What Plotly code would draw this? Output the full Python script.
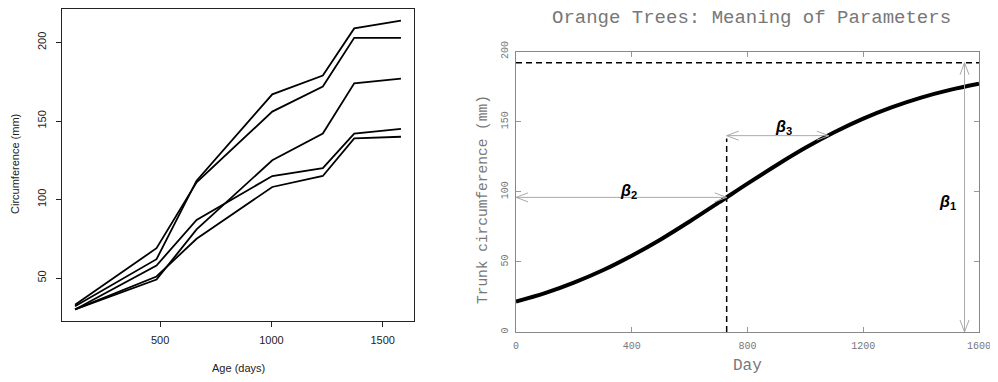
import plotly.graph_objects as go

# ---------------- data ----------------
# Left panel: Orange tree growth (age in days, circumference in mm)
age = [118, 484, 664, 1004, 1231, 1372, 1582]
tree1 = [30, 58, 87, 115, 120, 142, 145]
tree2 = [33, 69, 111, 156, 172, 203, 203]
tree3 = [30, 51, 75, 108, 115, 139, 140]
tree4 = [32, 62, 112, 167, 179, 209, 214]
tree5 = [30, 49, 81, 125, 142, 174, 177]
trees = [tree1, tree2, tree3, tree4, tree5]

# Right panel: fitted curve
day = [0, 100, 200, 300, 400, 500, 600, 700, 800, 900, 1000,
       1100, 1200, 1300, 1400, 1500, 1600]
circ = [21.7, 27.7, 35.2, 44.0, 54.4, 66.0, 78.8, 92.2, 105.8, 118.9,
        131.3, 142.4, 152.1, 160.3, 167.1, 172.6, 177.0]

# parameter annotations
beta1 = 192          # asymptote
beta2 = 728          # inflection day
beta3 = 353          # scale
beta1_arrow_day = 1550
beta3_arrow_level = 140
beta2_dash_top = 138

# ---------------- layout geometry ----------------
# page body has an 8px margin; figure sized so the page fills the window
OFF = 8
W, H = 998 - 2 * OFF, 382 - 2 * OFF
L_X = (62, 414); L_Y = (9, 321)          # screen pixels
R_X = (516, 979); R_Y = (51.5, 332)
XR2 = [0, 1600]; YR2 = [0, 200]

def xdom(p): return [(p[0] - OFF) / W, (p[1] - OFF) / W]
def ydom(p): return [(H - (p[1] - OFF)) / H, (H - (p[0] - OFF)) / H]

fig = go.Figure()

for t in trees:
    fig.add_trace(go.Scatter(x=age, y=t, mode="lines", xaxis="x", yaxis="y",
                             line=dict(color="black", width=1.8),
                             showlegend=False, hoverinfo="skip"))

fig.add_trace(go.Scatter(x=day, y=circ, mode="lines", xaxis="x2", yaxis="y2",
                         line=dict(color="black", width=4, shape="spline"),
                         showlegend=False, hoverinfo="skip"))

# pixel scale of the right panel (for arrow heads)
sx = (R_X[1] - R_X[0]) / (XR2[1] - XR2[0])
sy = (R_Y[1] - R_Y[0]) / (YR2[1] - YR2[0])

shapes = []
ARROW_COL = "#aaaaaa"

def seg(x0, y0, x1, y1, color, width, dash="solid"):
    shapes.append(dict(type="line", xref="x2", yref="y2", x0=x0, y0=y0, x1=x1, y1=y1,
                       line=dict(color=color, width=width, dash=dash), layer="above"))

def head(xe, ye, xs, ys, length=12, half=4.5):
    # open V arrow head at (xe, ye), arrow coming from (xs, ys)
    dxp = (xe - xs) * sx; dyp = (ye - ys) * sy
    n = (dxp ** 2 + dyp ** 2) ** 0.5
    ux, uy = dxp / n, dyp / n
    nx, ny = -uy, ux
    for s in (1, -1):
        px = -length * ux + s * half * nx
        py = -length * uy + s * half * ny
        seg(xe, ye, xe + px / sx, ye + py / sy, ARROW_COL, 1)

def darrow(x0, y0, x1, y1):
    seg(x0, y0, x1, y1, ARROW_COL, 1)
    head(x1, y1, x0, y0)
    head(x0, y0, x1, y1)

# dashed reference lines
seg(XR2[0], beta1, XR2[1], beta1, "black", 1.5, "6px,4px")
seg(beta2, 0, beta2, beta2_dash_top, "black", 1.5, "6px,4px")
# arrows
darrow(XR2[0], beta1 / 2, beta2, beta1 / 2)
darrow(beta2, beta3_arrow_level, beta2 + beta3, beta3_arrow_level)
darrow(beta1_arrow_day, 0, beta1_arrow_day, beta1)

annotations = []
MONO = "Liberation Mono"
SANS = "Liberation Sans"

def pann(text, x, y, size, color, font=SANS, angle=0):
    annotations.append(dict(text=text, xref="paper", yref="paper",
                            x=(x - OFF) / W, y=(H - (y - OFF)) / H,
                            showarrow=False, xanchor="center", yanchor="middle",
                            textangle=angle, font=dict(family=font, size=size, color=color)))

pann("Age (days)", 238, 368, 11, "#222")
pann("Circumference (mm)", 15, 164, 11, "#222", angle=-90)
pann("Orange Trees: Meaning of Parameters", 751, 18, 19, "#777", font=MONO)
pann("Day", 747, 366, 16, "#777", font=MONO)
pann("Trunk circumference (mm)", 483, 200, 14.5, "#777", font=MONO, angle=-90)

def bann(text, x, y):
    annotations.append(dict(text=text, xref="x2", yref="y2", x=x, y=y, showarrow=False,
                            xanchor="center", yanchor="middle",
                            font=dict(family=SANS, size=16, color="black")))

bann("<b><i>β</i><sub>1</sub></b>", 1490, 92)
bann("<b><i>β</i><sub>2</sub></b>", 389, 100)
bann("<b><i>β</i><sub>3</sub></b>", 924, 146)

left_axis = dict(showgrid=False, zeroline=False, showline=True, mirror=True,
                 automargin=False, ticklabeloverflow="allow",
                 linecolor="#222", linewidth=1, ticks="outside", ticklen=5,
                 tickcolor="#222", tickfont=dict(family=SANS, size=11, color="#222"))
right_axis = dict(showgrid=False, zeroline=False, showline=True, mirror="ticks",
                  automargin=False, ticklabeloverflow="allow",
                  linecolor="#888", linewidth=1.3, ticks="inside", ticklen=5,
                  tickcolor="#999", tickfont=dict(family=MONO, size=10, color="#777"))

fig.update_layout(
    width=W, height=H, autosize=False,
    margin=dict(l=0, r=0, t=0, b=0, pad=0),
    paper_bgcolor="white", plot_bgcolor="white",
    xaxis=dict(domain=xdom(L_X), range=[59.4, 1640.6], tickvals=[500, 1000, 1500],
               anchor="y", ticklabelstandoff=4, **left_axis),
    yaxis=dict(domain=ydom(L_Y), range=[22.64, 221.36], tickvals=[50, 100, 150, 200],
               tickangle=-90, anchor="x", ticklabelstandoff=6, **left_axis),
    xaxis2=dict(domain=xdom(R_X), range=XR2, tickvals=[0, 400, 800, 1200, 1600],
                anchor="y2", ticklabelstandoff=4, **right_axis),
    yaxis2=dict(domain=ydom(R_Y), range=YR2, tickvals=[0, 50, 100, 150, 200],
                tickangle=-90, anchor="x2", ticklabelstandoff=3, **right_axis),
    shapes=shapes, annotations=annotations,
)

fig.write_html("out.html")
